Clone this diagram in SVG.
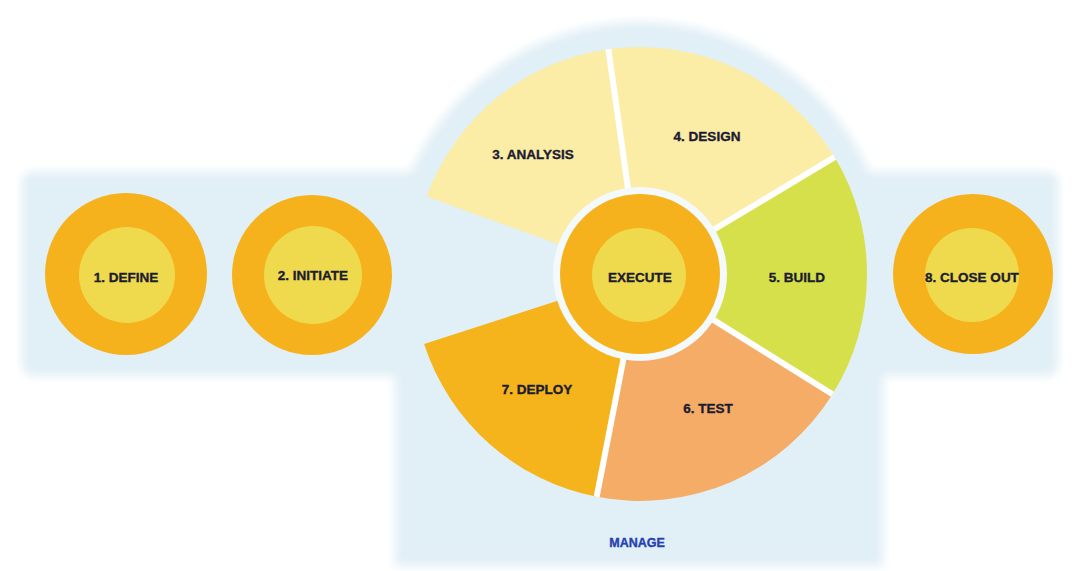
<svg xmlns="http://www.w3.org/2000/svg" width="1078" height="571" viewBox="0 0 1078 571">
<defs>
<filter id="soft" x="-5%" y="-5%" width="110%" height="110%"><feGaussianBlur stdDeviation="5"/></filter>
<style>
.lbl{font-family:"Liberation Sans",Arial,sans-serif;font-weight:bold;font-size:13.5px;fill:#1b1c30;stroke:#1b1c30;stroke-width:0.35;text-anchor:middle}
.outer{fill:#F5B21C}
.inner{fill:#EFDA4E}
.gap{stroke:#FFFFFF;stroke-width:6;fill:none}
.pale{fill:#FBECA6}
</style>
</defs>
<rect width="1078" height="571" fill="#FFFFFF"/>
<g id="background" fill="#E1EFF6" filter="url(#soft)">
<rect x="22" y="172" width="1036" height="204" rx="10"/>
<circle cx="640" cy="272" r="250"/>
<rect x="395" y="272" width="488" height="294"/>
</g>
<g id="analysis"><path class="pale" d="M564.8,246.6 L426.7,196.4 A227,227 0 0 1 608.4,49.2 L628.9,194.8 A80,80 0 0 0 564.8,246.6 Z"/><text class="lbl" x="533" y="159">3. ANALYSIS</text></g>
<g id="design"><path class="pale" d="M628.9,194.8 L608.4,49.2 A227,227 0 0 1 834.6,157.1 L708.6,232.8 A80,80 0 0 0 628.9,194.8 Z"/><text class="lbl" x="707" y="141">4. DESIGN</text></g>
<g id="build"><path fill="#D6E04A" d="M708.6,232.8 L834.6,157.1 A227,227 0 0 1 832.5,394.3 L707.8,316.4 A80,80 0 0 0 708.6,232.8 Z"/><text class="lbl" x="797" y="282">5. BUILD</text></g>
<g id="test"><path fill="#F5AC66" d="M707.8,316.4 L832.5,394.3 A227,227 0 0 1 596.7,496.8 L624.7,352.5 A80,80 0 0 0 707.8,316.4 Z"/><text class="lbl" x="708" y="413">6. TEST</text></g>
<g id="deploy"><path fill="#F5B41C" d="M624.7,352.5 L596.7,496.8 A227,227 0 0 1 424.1,344.1 L563.9,298.7 A80,80 0 0 0 624.7,352.5 Z"/><text class="lbl" x="537" y="394">7. DEPLOY</text></g>
<g id="separators">
<line class="gap" x1="628.9" y1="194.8" x2="608.4" y2="49.2"/>
<line class="gap" x1="708.6" y1="232.8" x2="834.6" y2="157.1"/>
<line class="gap" x1="707.8" y1="316.4" x2="832.5" y2="394.3"/>
<line class="gap" x1="624.7" y1="352.5" x2="596.7" y2="496.8"/>
</g>
<g id="execute"><circle cx="640" cy="274" r="87" fill="#F4F9FC"/><circle class="outer" cx="640" cy="274" r="80"/><circle class="inner" cx="639" cy="275" r="47"/><text class="lbl" x="640" y="282">EXECUTE</text></g>
<g id="define"><circle class="outer" cx="126" cy="274" r="81"/><circle class="inner" cx="127" cy="275" r="48"/><text class="lbl" x="126" y="282">1. DEFINE</text></g>
<g id="initiate"><circle class="outer" cx="312" cy="275" r="80"/><circle class="inner" cx="313" cy="275" r="49"/><text class="lbl" x="313" y="280">2. INITIATE</text></g>
<g id="closeout"><circle class="outer" cx="973" cy="274" r="80"/><circle class="inner" cx="972" cy="275" r="47"/><text class="lbl" x="972" y="282">8. CLOSE OUT</text></g>
<g id="manage"><text class="lbl" x="637" y="547" style="fill:#2440B0;stroke:#2440B0;font-size:12.5px">MANAGE</text></g>
<g id="connectors"/>
</svg>
